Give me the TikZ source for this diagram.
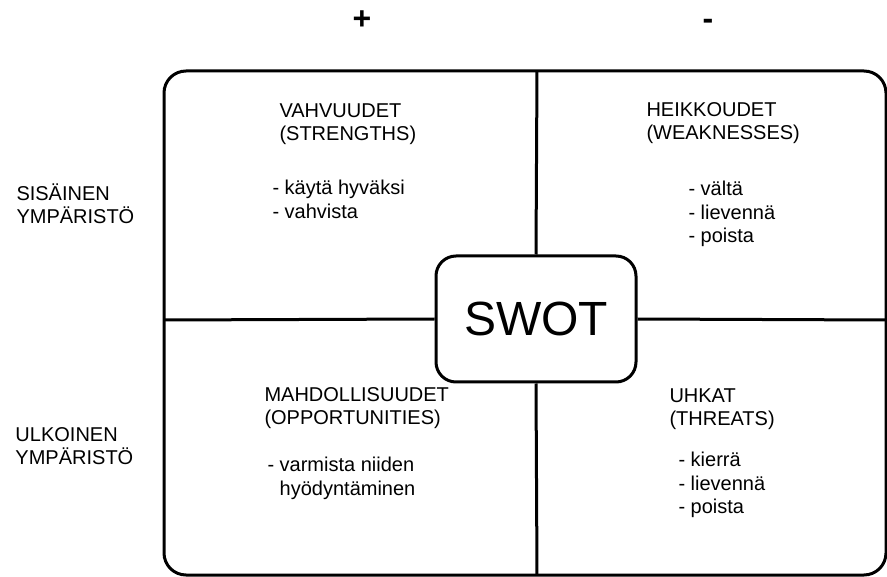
\documentclass[tikz,border=0pt]{standalone}
\usepackage{fontspec}
\setmainfont{Liberation Sans}
\usepackage{tikz}
\usetikzlibrary{positioning,calc}
\tikzset{
    every picture/.style={line width=3pt},
    frame/.style={draw,rounded corners=22pt,line width=3pt},
    swotbox/.style={draw,fill=white,rounded corners=20pt,line width=3pt,
        minimum width=200pt,minimum height=126pt,inner sep=0pt,
        font=\fontsize{48}{52}\selectfont},
    label/.style={anchor=north west,inner sep=0pt,align=left,
        font=\fontsize{20}{23.5}\selectfont},
    sign/.style={inner sep=0pt,font=\fontsize{32}{32}\selectfont\bfseries}
}

\begin{document}
\begin{tikzpicture}[x=1pt,y=-1pt]
        \useasboundingbox (0,0) rectangle (887,577);

        % Outer frame and its cross
        \draw[frame] (164,71) rectangle (886,575);
        \coordinate (tmid) at (537,71);
        \coordinate (bmid) at (537,575);
        \coordinate (lmid) at (164,320);
        \coordinate (rmid) at (886,320);
        \node[swotbox] (swot) at (536,319) {SWOT};
        \draw (tmid) -- (swot.north);
        \draw (swot.south) -- (bmid);
        \draw (lmid) -- (swot.west);
        \draw (swot.east) -- (rmid);

        % Signs on top
        \node[sign] (plus) at (362,20) {+};
        \node[sign] (minus) at (708,24) {-};

        % Row labels
        \node[label] (sisainen) at (15,182) {SISÄINEN\\YMPÄRISTÖ};
        \node[label] (ulkoinen) at (14,426) {ULKOINEN\\YMPÄRISTÖ};

        % Strengths
        \node[label] (vahv) at (278,102) {VAHVUUDET\\(STRENGTHS)};
        \node[label] (vahvlist) at (271,179) {- käytä hyväksi\\- vahvista};

        % Weaknesses
        \node[label] (heik) at (645,101) {HEIKKOUDET\\(WEAKNESSES)};
        \node[label] (heiklist) at (687,180) {- vältä\\- lievennä\\- poista};

        % Opportunities
        \node[label] (mahd) at (263,386) {MAHDOLLISUUDET\\(OPPORTUNITIES)};
        \node[label] (mahdlist) at (266,456) {- varmista niiden\\\phantom{- }hyödyntäminen};

        % Threats
        \node[label] (uhk) at (668,387) {UHKAT\\(THREATS)};
        \node[label] (uhklist) at (677,451) {- kierrä\\- lievennä\\- poista};
\end{tikzpicture}
\end{document}
